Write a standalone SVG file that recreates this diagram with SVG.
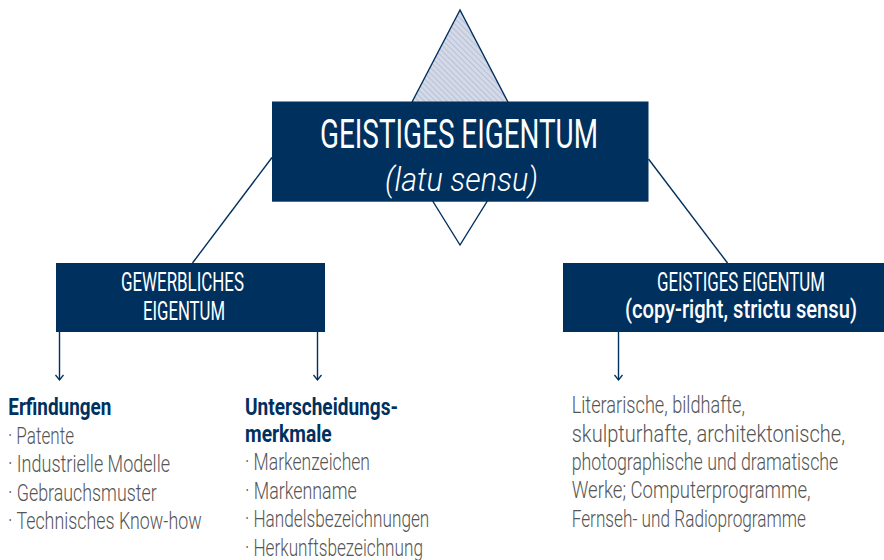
<svg xmlns="http://www.w3.org/2000/svg" width="884" height="560" viewBox="0 0 884 560">
<style>
.box{fill:#00305e}
.ln{stroke:#00305e;stroke-width:1.4;fill:none}
.t{font-family:Roboto,"Liberation Sans",sans-serif;fill:#ffffff}
.h{font-family:Roboto,"Liberation Sans",sans-serif;font-weight:bold;fill:#00305e;font-size:23px}
.g{font-family:Roboto,"Liberation Sans",sans-serif;font-weight:300;fill:#555555;font-size:24px}
</style>
<defs>
<pattern id="hatch" width="4" height="4" patternUnits="userSpaceOnUse" patternTransform="rotate(-45)">
<rect width="4" height="4" fill="#d3d9e6"/>
<line x1="0" y1="0" x2="0" y2="4" stroke="#a9b5cf" stroke-width="1.3"/>
</pattern>
<marker id="arr" markerUnits="userSpaceOnUse" markerWidth="12" markerHeight="12" refX="6" refY="6" orient="auto">
<path d="M1,2 L6,6 L1,10" fill="none" stroke="#00305e" stroke-width="1.3"/>
</marker>
</defs>

<g id="decor">
<polygon points="460,10 387,150 533,150" fill="url(#hatch)" stroke="#00305e" stroke-width="1.4"/>
<polygon points="460,245 401,150 519,150" fill="#ffffff" stroke="#00305e" stroke-width="1.4"/>
</g>

<g id="connectors">
<line class="ln" x1="272" y1="157.5" x2="192.5" y2="263"/>
<line class="ln" x1="648.5" y1="159" x2="727.5" y2="263"/>
<line class="ln" x1="59.5" y1="332" x2="59.5" y2="380" marker-end="url(#arr)"/>
<line class="ln" x1="317.5" y1="332" x2="317.5" y2="380" marker-end="url(#arr)"/>
<line class="ln" x1="618.5" y1="332" x2="618.5" y2="380" marker-end="url(#arr)"/>
</g>

<g id="main">
<rect class="box" x="272" y="101.5" width="376.5" height="100.2"/>
<text class="t" transform="translate(320 148) scale(0.72 1)" font-size="40" textLength="386.1" lengthAdjust="spacingAndGlyphs">GEISTIGES EIGENTUM</text>
<text class="t" transform="translate(385 190.5) scale(0.72 1)" font-size="34" font-style="italic" font-weight="300" textLength="212.5" lengthAdjust="spacingAndGlyphs">(latu sensu)</text>
</g>

<g id="gewerbliches">
<rect class="box" x="56" y="263" width="269" height="69"/>
<text class="t" transform="translate(121 291) scale(0.72 1)" font-size="25" textLength="170.8" lengthAdjust="spacingAndGlyphs">GEWERBLICHES</text>
<text class="t" transform="translate(143 319.5) scale(0.72 1)" font-size="25" textLength="113.9" lengthAdjust="spacingAndGlyphs">EIGENTUM</text>
</g>

<g id="geistiges">
<rect class="box" x="563" y="263" width="321" height="69"/>
<text class="t" transform="translate(657 291) scale(0.72 1)" font-size="25" textLength="233.3" lengthAdjust="spacingAndGlyphs">GEISTIGES EIGENTUM</text>
<text class="t" transform="translate(625 318) scale(0.72 1)" font-size="25" font-weight="500" textLength="322.2" lengthAdjust="spacingAndGlyphs">(copy-right, strictu sensu)</text>
</g>

<g id="erfindungen">
<text class="h" transform="translate(8.3 415) scale(0.72 1)" textLength="143.1" lengthAdjust="spacingAndGlyphs">Erfindungen</text>
<text class="g" transform="translate(8 443.5) scale(0.72 1)" textLength="91.7" lengthAdjust="spacingAndGlyphs">· Patente</text>
<text class="g" transform="translate(8 472) scale(0.72 1)" textLength="225" lengthAdjust="spacingAndGlyphs">· Industrielle Modelle</text>
<text class="g" transform="translate(8 500.5) scale(0.72 1)" textLength="206.5" lengthAdjust="spacingAndGlyphs">· Gebrauchsmuster</text>
<text class="g" transform="translate(8 529) scale(0.72 1)" textLength="269" lengthAdjust="spacingAndGlyphs">· Technisches Know-how</text>
</g>

<g id="unterscheidungsmerkmale">
<text class="h" transform="translate(245 415) scale(0.72 1)" textLength="212.5" lengthAdjust="spacingAndGlyphs">Unterscheidungs-</text>
<text class="h" transform="translate(245 441.7) scale(0.72 1)" textLength="120.4" lengthAdjust="spacingAndGlyphs">merkmale</text>
<text class="g" transform="translate(245 470) scale(0.72 1)" textLength="173.6" lengthAdjust="spacingAndGlyphs">· Markenzeichen</text>
<text class="g" transform="translate(245 498.5) scale(0.72 1)" textLength="155.1" lengthAdjust="spacingAndGlyphs">· Markenname</text>
<text class="g" transform="translate(245 527) scale(0.72 1)" textLength="256" lengthAdjust="spacingAndGlyphs">· Handelsbezeichnungen</text>
<text class="g" transform="translate(245 555.5) scale(0.72 1)" textLength="247.2" lengthAdjust="spacingAndGlyphs">· Herkunftsbezeichnung</text>
</g>

<g id="werke">
<text class="g" transform="translate(571.7 413.3) scale(0.72 1)" textLength="240.7" lengthAdjust="spacingAndGlyphs">Literarische, bildhafte,</text>
<text class="g" transform="translate(571.7 441.7) scale(0.72 1)" textLength="379.6" lengthAdjust="spacingAndGlyphs">skulpturhafte, architektonische,</text>
<text class="g" transform="translate(571.7 470) scale(0.72 1)" textLength="370.3" lengthAdjust="spacingAndGlyphs">photographische und dramatische</text>
<text class="g" transform="translate(571.7 498.3) scale(0.72 1)" textLength="331.9" lengthAdjust="spacingAndGlyphs">Werke; Computerprogramme,</text>
<text class="g" transform="translate(571.7 526.7) scale(0.72 1)" textLength="325.4" lengthAdjust="spacingAndGlyphs">Fernseh- und Radioprogramme</text>
</g>
</svg>
